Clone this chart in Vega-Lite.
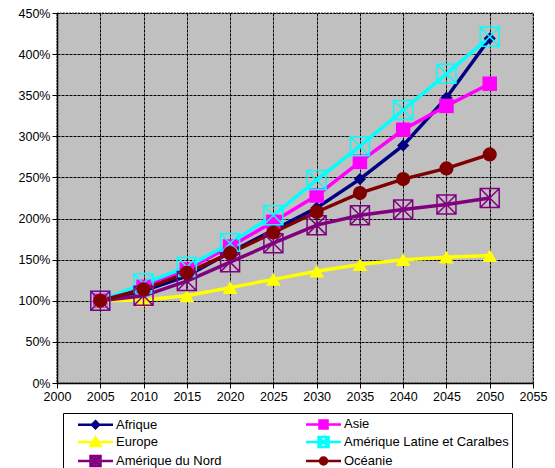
{
  "$schema": "https://vega.github.io/schema/vega-lite/v6.json",
  "width": 476,
  "height": 370,
  "autosize": {"type": "none"},
  "padding": {"left": 57, "top": 13, "right": 22, "bottom": 85},
  "background": "white",
  "data": {"values": [
    {"region": "Afrique", "year": 2005, "pct": 100},
    {"region": "Afrique", "year": 2010, "pct": 112},
    {"region": "Afrique", "year": 2015, "pct": 130},
    {"region": "Afrique", "year": 2020, "pct": 159},
    {"region": "Afrique", "year": 2025, "pct": 186},
    {"region": "Afrique", "year": 2030, "pct": 213},
    {"region": "Afrique", "year": 2035, "pct": 248},
    {"region": "Afrique", "year": 2040, "pct": 289},
    {"region": "Afrique", "year": 2045, "pct": 347},
    {"region": "Afrique", "year": 2050, "pct": 419},
    {"region": "Asie", "year": 2005, "pct": 100},
    {"region": "Asie", "year": 2010, "pct": 117},
    {"region": "Asie", "year": 2015, "pct": 138},
    {"region": "Asie", "year": 2020, "pct": 166},
    {"region": "Asie", "year": 2025, "pct": 196},
    {"region": "Asie", "year": 2030, "pct": 228},
    {"region": "Asie", "year": 2035, "pct": 269},
    {"region": "Asie", "year": 2040, "pct": 308},
    {"region": "Asie", "year": 2045, "pct": 337},
    {"region": "Asie", "year": 2050, "pct": 364},
    {"region": "Europe", "year": 2005, "pct": 100},
    {"region": "Europe", "year": 2010, "pct": 101},
    {"region": "Europe", "year": 2015, "pct": 106},
    {"region": "Europe", "year": 2020, "pct": 116},
    {"region": "Europe", "year": 2025, "pct": 126},
    {"region": "Europe", "year": 2030, "pct": 136},
    {"region": "Europe", "year": 2035, "pct": 144},
    {"region": "Europe", "year": 2040, "pct": 150},
    {"region": "Europe", "year": 2045, "pct": 153},
    {"region": "Europe", "year": 2050, "pct": 155},
    {"region": "Amérique Latine et Caralbes", "year": 2005, "pct": 100},
    {"region": "Amérique Latine et Caralbes", "year": 2010, "pct": 121},
    {"region": "Amérique Latine et Caralbes", "year": 2015, "pct": 141},
    {"region": "Amérique Latine et Caralbes", "year": 2020, "pct": 170},
    {"region": "Amérique Latine et Caralbes", "year": 2025, "pct": 204},
    {"region": "Amérique Latine et Caralbes", "year": 2030, "pct": 247},
    {"region": "Amérique Latine et Caralbes", "year": 2035, "pct": 288},
    {"region": "Amérique Latine et Caralbes", "year": 2040, "pct": 332},
    {"region": "Amérique Latine et Caralbes", "year": 2045, "pct": 376},
    {"region": "Amérique Latine et Caralbes", "year": 2050, "pct": 421},
    {"region": "Amérique du Nord", "year": 2005, "pct": 100},
    {"region": "Amérique du Nord", "year": 2010, "pct": 106},
    {"region": "Amérique du Nord", "year": 2015, "pct": 124},
    {"region": "Amérique du Nord", "year": 2020, "pct": 147},
    {"region": "Amérique du Nord", "year": 2025, "pct": 170},
    {"region": "Amérique du Nord", "year": 2030, "pct": 192},
    {"region": "Amérique du Nord", "year": 2035, "pct": 204},
    {"region": "Amérique du Nord", "year": 2040, "pct": 211},
    {"region": "Amérique du Nord", "year": 2045, "pct": 217},
    {"region": "Amérique du Nord", "year": 2050, "pct": 225},
    {"region": "Océanie", "year": 2005, "pct": 100},
    {"region": "Océanie", "year": 2010, "pct": 114},
    {"region": "Océanie", "year": 2015, "pct": 134},
    {"region": "Océanie", "year": 2020, "pct": 158},
    {"region": "Océanie", "year": 2025, "pct": 183},
    {"region": "Océanie", "year": 2030, "pct": 208},
    {"region": "Océanie", "year": 2035, "pct": 231},
    {"region": "Océanie", "year": 2040, "pct": 248},
    {"region": "Océanie", "year": 2045, "pct": 261},
    {"region": "Océanie", "year": 2050, "pct": 278}
  ]},
  "encoding": {
    "x": {"field": "year", "type": "quantitative",
      "scale": {"domain": [2000, 2055], "nice": false, "zero": false},
      "axis": {"title": null, "values": [2000,2005,2010,2015,2020,2025,2030,2035,2040,2045,2050,2055], "format": "d", "labelFlush": false}},
    "y": {"field": "pct", "type": "quantitative",
      "scale": {"domain": [0, 450], "nice": false},
      "axis": {"title": null, "values": [0,50,100,150,200,250,300,350,400,450], "labelExpr": "datum.value + '%'", "labelFlush": false}}
  },
  "layer": [
    {
      "mark": {"type": "line", "strokeWidth": 3.5},
      "encoding": {
        "color": {"field": "region", "type": "nominal",
          "scale": {"domain": ["Afrique", "Asie", "Europe", "Amérique Latine et Caralbes", "Amérique du Nord", "Océanie"],
                    "range": ["#000080", "#FF00FF", "#FFFF00", "#00FFFF", "#800080", "#800000"]},
          "legend": {
            "title": null, "orient": "none", "legendX": 6, "legendY": 400,
            "columns": 2, "columnPadding": 72, "rowPadding": -5,
            "direction": "horizontal",
            "padding": 3, "strokeColor": "black", "fillColor": "white",
            "labelFont": "Liberation Sans", "labelFontSize": 13, "labelColor": "black",
            "labelOffset": 34, "labelLimit": 300,
            "symbolSize": 169, "symbolStrokeWidth": 2.5,
            "encode": {
              "symbols": {"update": {
                "shape": {"signal": "datum.value === 'Afrique' ? 'M0.62,0H6M3.31,-0.54L3.85,0L3.31,0.54L2.77,0Z' : datum.value === 'Asie' ? 'M0.62,0H6M2.69,-0.62H3.93V0.62H2.69Z' : datum.value === 'Europe' ? 'M0.62,0H6M3.31,-0.7L4.08,0.6L2.54,0.6Z' : datum.value === 'Amérique Latine et Caralbes' ? 'M0.62,0H6M2.54,-0.77H4.08V0.77H2.54ZM2.54,-0.77L4.08,0.77M4.08,-0.77L2.54,0.77' : datum.value === 'Amérique du Nord' ? 'M0.62,0H6M2.54,-0.77H4.08V0.77H2.54ZM2.54,-0.77L4.08,0.77M4.08,-0.77L2.54,0.77M3.31,-0.77V0.77' : 'M0.62,0H6M2.77,0A0.54,0.54,0,1,0,3.85,0A0.54,0.54,0,1,0,2.77,0Z'"},
                "fill": {"signal": "datum.value === 'Afrique' ? '#000080' : datum.value === 'Asie' ? '#FF00FF' : datum.value === 'Europe' ? '#FFFF00' : datum.value === 'Océanie' ? '#800000' : 'transparent'"},
                "strokeWidth": {"value": 2.5},
                "size": {"value": 169}
              }}
            }
          }
        }
      }
    },
    {
      "transform": [{"filter": "datum.region === 'Afrique'"}],
      "mark": {"type": "point", "shape": "diamond", "filled": true, "color": "#000080", "size": 150, "opacity": 1}
    },
    {
      "transform": [{"filter": "datum.region === 'Asie'"}],
      "mark": {"type": "point", "shape": "square", "filled": true, "color": "#FF00FF", "size": 210, "opacity": 1}
    },
    {
      "transform": [{"filter": "datum.region === 'Europe'"}],
      "mark": {"type": "point", "shape": "triangle-up", "filled": true, "color": "#FFFF00", "size": 220, "opacity": 1}
    },
    {
      "transform": [{"filter": "datum.region === 'Amérique Latine et Caralbes'"}],
      "mark": {"type": "point", "shape": "M-1,-1H1V1H-1ZM-1,-1L1,1M1,-1L-1,1", "filled": false, "color": "#00FFFF", "size": 361, "strokeWidth": 1.5, "opacity": 1}
    },
    {
      "transform": [{"filter": "datum.region === 'Amérique du Nord'"}],
      "mark": {"type": "point", "shape": "M-1,-1H1V1H-1ZM-1,-1L1,1M1,-1L-1,1M0,-1V1", "filled": false, "color": "#800080", "size": 361, "strokeWidth": 1.5, "opacity": 1}
    },
    {
      "transform": [{"filter": "datum.region === 'Océanie'"}],
      "mark": {"type": "point", "shape": "circle", "filled": true, "color": "#800000", "size": 200, "opacity": 1}
    }
  ],
  "config": {
    "view": {"fill": "#C0C0C0", "stroke": "#808080", "strokeDash": [2, 1], "strokeWidth": 1.5},
    "axis": {
      "labelFont": "Liberation Sans", "labelFontSize": 12.5, "labelColor": "black",
      "domainColor": "black", "domainWidth": 1.5,
      "tickColor": "black", "tickSize": 5, "tickWidth": 1,
      "gridColor": "black", "gridDash": [3, 1], "gridWidth": 1, "gridOpacity": 1,
      "labelPadding": 2
    }
  }
}
